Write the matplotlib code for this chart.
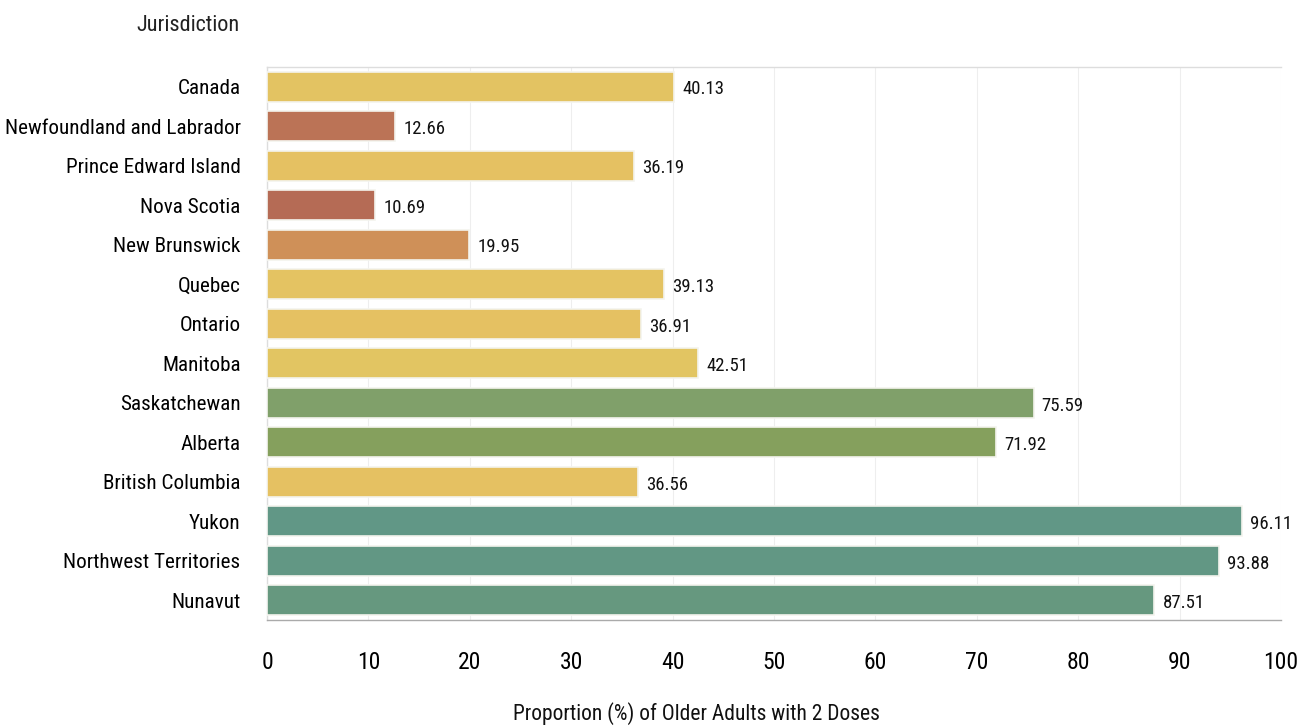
import matplotlib
matplotlib.use("Agg")
import matplotlib.pyplot as plt
from matplotlib.colors import LinearSegmentedColormap, Normalize

plt.rcParams['font.family'] = ['Roboto Condensed', 'DejaVu Sans']
plt.rcParams['font.stretch'] = 'condensed'

jurisdictions = ["Canada", "Newfoundland and Labrador", "Prince Edward Island", "Nova Scotia",
                 "New Brunswick", "Quebec", "Ontario", "Manitoba", "Saskatchewan", "Alberta",
                 "British Columbia", "Yukon", "Northwest Territories", "Nunavut"]
proportions = [40.13, 12.66, 36.19, 10.69, 19.95, 39.13, 36.91, 42.51, 75.59, 71.92,
               36.56, 96.11, 93.88, 87.51]
x_ticks = [0, 10, 20, 30, 40, 50, 60, 70, 80, 90, 100]

# colour scale by value (brown -> orange -> yellow -> olive -> teal)
cmap = LinearSegmentedColormap.from_list("vax", [
    (0.00, "#b46a55"),
    (0.11, "#cf9058"),
    (0.28, "#e6c062"),
    (0.36, "#e2c562"),
    (0.68, "#86a05a"),
    (0.73, "#80a06a"),
    (0.86, "#66987f"),
    (1.00, "#5f9689"),
])
norm = Normalize(vmin=10, vmax=100)
colors = [cmap(norm(v)) for v in proportions]

fig = plt.figure(figsize=(13.14, 7.27), dpi=100)
ax = fig.add_axes([0.2032, 0.147, 0.7718, 0.761])

y = list(range(len(jurisdictions)))
ax.barh(y, proportions, height=0.76, color=colors, edgecolor="#f4f4ee", linewidth=1.2, zorder=3)
for yi, v in zip(y, proportions):
    ax.text(v + 0.8, yi + 0.07, f"{v:.2f}", va="center", ha="left", fontsize=13.5, color="#111111")

ax.set_ylim(len(jurisdictions) - 0.5, -0.5)
ax.set_xlim(0, 100)
ax.set_yticks(y)
ax.set_yticklabels(jurisdictions, fontsize=15.2)
ax.set_xticks(x_ticks)
ax.set_xticklabels([str(t) for t in x_ticks], fontsize=17)
ax.tick_params(axis="y", length=0, pad=19)
ax.tick_params(axis="x", length=0, pad=22)
ax.grid(axis="x", color="#eeeeee", linewidth=0.8, zorder=0)

for s in ["top", "left"]:
    ax.spines[s].set_color("#dddddd")
    ax.spines[s].set_linewidth(1)
ax.spines["right"].set_visible(False)
ax.spines["bottom"].set_color("#aaaaaa")
ax.spines["bottom"].set_linewidth(1)

fig.text(0.53, 0.019, "Proportion (%) of Older Adults with 2 Doses", ha="center", va="center",
         fontsize=15.5, color="#111111")
fig.text(0.182, 0.965, "Jurisdiction", ha="right", va="center", fontsize=16, color="#222222")

fig.savefig("out.png", dpi=100)
